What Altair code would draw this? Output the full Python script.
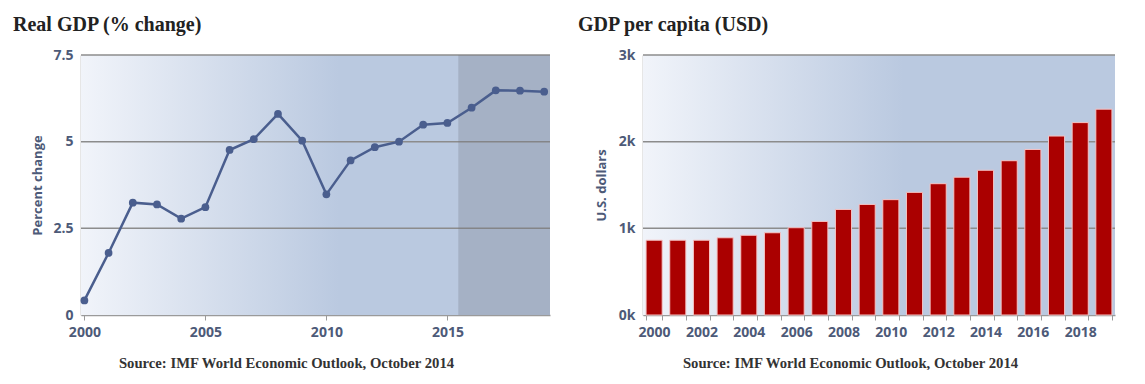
import altair as alt
import pandas as pd

# ---- data ----
years = list(range(2000, 2020))
gdp_growth = [0.42, 1.79, 3.24, 3.19, 2.78, 3.11, 4.76, 5.07, 5.80, 5.03,
              3.48, 4.46, 4.84, 5.00, 5.49, 5.54, 5.98, 6.48, 6.47, 6.44]
gdp_per_capita = [863, 863, 863, 891, 920, 949, 1007, 1080, 1218, 1276,
                  1331, 1415, 1515, 1590, 1670, 1780, 1910, 2065, 2220, 2375]
growth_ticks = [0, 2.5, 5, 7.5]
growth_grid = [2.5, 5, 7.5]
growth_xticks = [2000, 2005, 2010, 2015]
pc_ticks = [0, 1000, 2000, 3000]
pc_grid = [1000, 2000, 3000]
forecast_start = 2015.45
x_domain = [1999.86, 2019.24]

title_left = "Real GDP (% change)"
title_right = "GDP per capita (USD)"
source_text = "Source: IMF World Economic Outlook, October 2014"

# ---- style ----
W1, W2, H = 469, 472, 260
label_color = "#4d5a78"
grid_color = "#8c8c8c"
axis_font = "Open Sans"
serif = "Liberation Serif"

bg_gradient = alt.LinearGradient(
    gradient="linear",
    stops=[alt.GradientStop(color="#f1f4fa", offset=0),
           alt.GradientStop(color="#bac9e0", offset=0.55),
           alt.GradientStop(color="#bac9e0", offset=1)],
    x1=0, x2=1, y1=0, y2=0,
)

def chart_title(text, dx):
    return alt.TitleParams(text=text, anchor="start", frame="group", dx=dx,
                           font=serif, fontSize=20, fontWeight="bold",
                           color="#222222", offset=13)

axis_common = dict(labelFont=axis_font, labelFontSize=14, labelFontWeight="bold",
                   labelColor=label_color, domainColor="#9a9a9a", domainWidth=1.5,
                   grid=False)
y_title_style = dict(titleFont=axis_font, titleFontSize=13, titleFontWeight="bold",
                     titleColor=label_color)
src_title_style = dict(titleFont=serif, titleFontSize=14.7, titleFontWeight="bold",
                       titleColor="#333333", titleY=52, titleBaseline="alphabetic",
                       titleAlign="center")

# ---- left chart ----
growth_df = pd.DataFrame({"year": years, "growth": gdp_growth})
x_scale = alt.Scale(domain=x_domain, nice=False, zero=False)
y_scale = alt.Scale(domain=[0, 7.5], nice=False)

bg1 = alt.Chart(alt.Data(values=[{}])).mark_rect(fill=bg_gradient).encode(
    x=alt.value(0), x2=alt.value(W1), y=alt.value(0), y2=alt.value(H))

grid1 = alt.Chart(pd.DataFrame({"v": growth_grid})).mark_rule(
    color=grid_color, strokeWidth=1.5).encode(
    y=alt.Y("v:Q", scale=y_scale), x=alt.value(0), x2=alt.value(W1))

shade = alt.Chart(pd.DataFrame({"s": [forecast_start], "e": [x_domain[1]]})).mark_rect(
    fill="#6e737d", opacity=0.27).encode(
    x=alt.X("s:Q", scale=x_scale), x2="e:Q", y=alt.value(0), y2=alt.value(H))

line = alt.Chart(growth_df).mark_line(
    color="#4a5e8e", strokeWidth=2.5,
    point=alt.OverlayMarkDef(color="#4a5e8e", size=60, filled=True, opacity=1)
).encode(
    x=alt.X("year:Q", scale=x_scale,
            axis=alt.Axis(values=growth_xticks, format="d", title=source_text,
                          ticks=True, tickColor="#9a9a9a", tickSize=5,
                          labelPadding=5, titleX=205, **src_title_style,
                          **axis_common)),
    y=alt.Y("growth:Q", scale=y_scale,
            axis=alt.Axis(values=growth_ticks, title="Percent change",
                          labelExpr="format(datum.value, '.1~f')",
                          ticks=False, labelPadding=8, titleX=-44, titleY=H / 2,
                          titleAlign="center", titleBaseline="middle",
                          **y_title_style, **axis_common)),
)

left = alt.layer(bg1, grid1, shade, line).properties(
    width=W1, height=H, title=chart_title(title_left, -68))

# ---- right chart ----
pc_df = pd.DataFrame({"year": years, "gdp": gdp_per_capita})
y2_scale = alt.Scale(domain=[0, 3000], nice=False)

bg2 = alt.Chart(alt.Data(values=[{}])).mark_rect(fill=bg_gradient).encode(
    x=alt.value(0), x2=alt.value(W2), y=alt.value(0), y2=alt.value(H))

grid2 = alt.Chart(pd.DataFrame({"v": pc_grid})).mark_rule(
    color=grid_color, strokeWidth=1.5).encode(
    y=alt.Y("v:Q", scale=y2_scale), x=alt.value(0), x2=alt.value(W2))

bars = alt.Chart(pc_df).mark_bar(color="#aa0000", stroke="#f6c4c4", strokeWidth=1).encode(
    x=alt.X("year:O", scale=alt.Scale(paddingInner=0.32, paddingOuter=0.13),
            axis=alt.Axis(labelAngle=0, tickBand="extent", ticks=True,
                          tickColor="#9a9a9a", tickSize=5, labelPadding=5,
                          labelExpr="toNumber(datum.value) % 2 == 0 ? datum.label : ''",
                          labelOverlap=False, title=source_text, titleX=207,
                          **src_title_style, **axis_common)),
    y=alt.Y("gdp:Q", scale=y2_scale,
            axis=alt.Axis(values=pc_ticks, title="U.S. dollars", ticks=False,
                          labelPadding=8, labelExpr="datum.value / 1000 + 'k'",
                          titleX=-42, titleY=H / 2, titleAlign="center",
                          titleBaseline="middle", **y_title_style, **axis_common)),
)

right = alt.layer(bg2, grid2, bars).properties(
    width=W2, height=H, title=chart_title(title_right, -65))

chart = alt.hconcat(left, right, spacing=27).properties(
    padding={"left": 5, "top": 7, "right": 0, "bottom": 0}
).configure_view(stroke=None)

chart.save("out.html", embed_options={"renderer": "svg", "actions": False})
